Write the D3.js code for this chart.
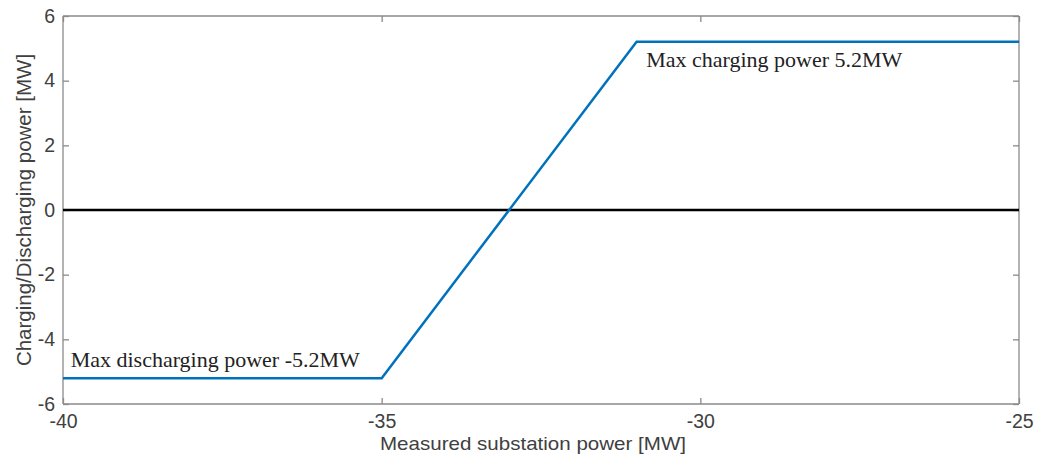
<!DOCTYPE html>
<html><head><meta charset="utf-8">
<script src="https://cdn.jsdelivr.net/npm/d3@7"></script>
<style>body{margin:0;background:#fff}svg{display:block}</style>
</head><body>
<svg id="c" width="1039" height="460"></svg>
<script>
const xTicks = [-40, -35, -30, -25];
const yTicks = [-6, -4, -2, 0, 2, 4, 6];
const controlX = [-40, -35, -31, -25];
const controlY = [-5.2, -5.2, 5.2, 5.2];
const zeroX = [-40, -25];
const zeroY = [0, 0];
const annotations = [
  {text: "Max discharging power -5.2MW", x: -39.88, y: -4.85},
  {text: "Max charging power 5.2MW", x: -30.85, y: 4.43}
];

const W = 1039, H = 460;
const m = {l: 63, r: 20, t: 16, b: 56};
const svg = d3.select("#c");
const x = d3.scaleLinear().domain([-40, -25]).range([m.l, W - m.r]);
const y = d3.scaleLinear().domain([-6, 6]).range([H - m.b, m.t]);
const axisColor = "#8a8a8a", textColor = "#404040";
const tick = 6;
const fmt = d => String(d);

function styleAxis(g) {
  g.selectAll("path").attr("stroke", axisColor).attr("stroke-width", 1.3);
  g.selectAll("line").attr("stroke", axisColor).attr("stroke-width", 1.3);
  g.selectAll("text").attr("fill", textColor).style("font-family", "Liberation Sans, Arial, sans-serif").style("font-size", "19.5px");
}
svg.append("g").attr("transform", `translate(0,${H - m.b})`)
  .call(d3.axisBottom(x).tickValues(xTicks).tickSize(-tick).tickPadding(10).tickFormat(fmt))
  .call(styleAxis).call(g => g.select(".domain").attr("d", `M${m.l},0H${W - m.r}`));
svg.append("g").attr("transform", `translate(0,${m.t})`)
  .call(d3.axisTop(x).tickValues(xTicks).tickSize(-tick).tickFormat(""))
  .call(styleAxis).call(g => g.select(".domain").attr("d", `M${m.l},0H${W - m.r}`));
svg.append("g").attr("transform", `translate(${m.l},0)`)
  .call(d3.axisLeft(y).tickValues(yTicks).tickSize(-tick).tickPadding(8).tickFormat(fmt))
  .call(styleAxis).call(g => g.select(".domain").attr("d", `M0,${m.t}V${H - m.b}`));
svg.append("g").attr("transform", `translate(${W - m.r},0)`)
  .call(d3.axisRight(y).tickValues(yTicks).tickSize(-tick).tickFormat(""))
  .call(styleAxis).call(g => g.select(".domain").attr("d", `M0,${m.t}V${H - m.b}`));

const line = d3.line().x(d => x(d[0])).y(d => y(d[1]));
svg.append("path").datum(zeroX.map((v, i) => [v, zeroY[i]]))
  .attr("d", line).attr("fill", "none").attr("stroke", "#000").attr("stroke-width", 2.5);
svg.append("path").datum(controlX.map((v, i) => [v, controlY[i]]))
  .attr("d", line).attr("fill", "none").attr("stroke", "#0072BD").attr("stroke-width", 2.5);

svg.selectAll("text.ann").data(annotations).join("text").attr("class", "ann")
  .attr("x", d => x(d.x)).attr("y", d => y(d.y))
  .attr("fill", "#222").style("font-family", "Liberation Serif, Times New Roman, serif").style("font-size", "22px")
  .text(d => d.text);

svg.append("text").attr("x", 533).attr("y", 450).attr("text-anchor", "middle")
  .attr("textLength", 306).attr("lengthAdjust", "spacingAndGlyphs")
  .attr("fill", textColor).style("font-family", "Liberation Sans, Arial, sans-serif").style("font-size", "19px")
  .text("Measured substation power [MW]");
svg.append("text").attr("transform", `translate(31,${(m.t + H - m.b) / 2}) rotate(-90)`).attr("text-anchor", "middle")
  .attr("fill", textColor).style("font-family", "Liberation Sans, Arial, sans-serif").style("font-size", "20.5px")
  .text("Charging/Discharging power [MW]");
</script>
</body></html>
